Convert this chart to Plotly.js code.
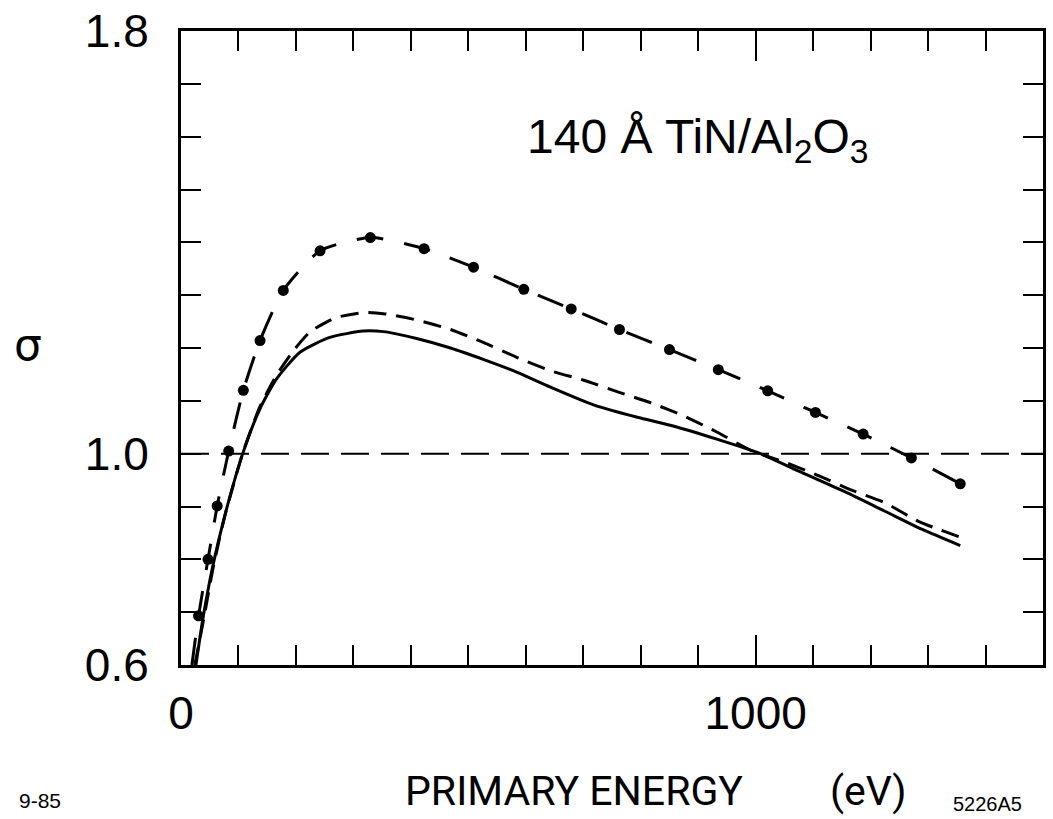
<!DOCTYPE html>
<html>
<head>
<meta charset="utf-8">
<script src="https://cdn.plot.ly/plotly-3.0.1.min.js"></script>
<style>
  html, body { margin: 0; padding: 0; background: #fff; }
  #chart { width: 1053px; height: 819px; }
</style>
</head>
<body>
<div id="chart"></div>
<script>
// Primary energy (eV) and yield sigma
const solidE = [26, 38, 55.5, 76, 108, 137, 166, 207, 259, 317, 352, 410, 469, 527, 585, 643, 719, 794, 858, 934, 1004, 1079, 1155, 1225, 1289, 1356];
const solidSigma = [0.6, 0.687, 0.788, 0.882, 1.002, 1.084, 1.141, 1.192, 1.220, 1.232, 1.231, 1.218, 1.200, 1.178, 1.154, 1.126, 1.092, 1.069, 1.052, 1.027, 1.002, 0.965, 0.928, 0.891, 0.857, 0.826];

const dashedE = [24, 40, 57, 77, 108, 137, 166, 198, 224, 253, 271, 317, 352, 410, 469, 527, 585, 643, 701, 760, 818, 876, 934, 992, 1050, 1108, 1167, 1225, 1283, 1356];
const dashedSigma = [0.6, 0.69, 0.79, 0.885, 1.003, 1.088, 1.148, 1.198, 1.230, 1.249, 1.258, 1.267, 1.265, 1.253, 1.235, 1.210, 1.182, 1.157, 1.139, 1.117, 1.096, 1.071, 1.040, 1.006, 0.984, 0.959, 0.931, 0.907, 0.872, 0.842];

const dotE = [30.5, 47, 63, 83, 108.5, 137.5, 178, 242, 329.5, 423, 509, 596.5, 679, 763, 850, 935, 1021, 1104, 1187, 1271, 1356];
const dotSigma = [0.693, 0.800, 0.901, 1.005, 1.120, 1.214, 1.309, 1.384, 1.409, 1.388, 1.353, 1.311, 1.274, 1.235, 1.197, 1.159, 1.119, 1.078, 1.037, 0.992, 0.943];
const dotLineStartE = [19];
const dotLineStartSigma = [0.6];

const unityE = [0, 1500];
const unitySigma = [1.0, 1.0];

const xTickVals = [0, 1000];
const xTickText = ['0', '1000'];
const yTickVals = [0.6, 1.0, 1.8];
const yTickText = ['0.6', '1.0', '1.8'];

const tickFont = { family: 'Liberation Sans, Arial, sans-serif', size: 46, color: '#000' };
const titleFont = { family: 'Roboto, Liberation Sans, Arial, sans-serif', size: 41, color: '#000' };

const traces = [
  { x: unityE, y: unitySigma, mode: 'lines', line: { color: '#000', width: 2, dash: '28px,12px' }, hoverinfo: 'skip', showlegend: false },
  { x: solidE, y: solidSigma, mode: 'lines', line: { color: '#000', width: 3, shape: 'spline', smoothing: 0.6 }, showlegend: false },
  { x: dashedE, y: dashedSigma, mode: 'lines', line: { color: '#000', width: 3, dash: '18px,10px', shape: 'spline', smoothing: 0.6 }, showlegend: false },
  { x: dotLineStartE.concat(dotE), y: dotLineStartSigma.concat(dotSigma), mode: 'lines', line: { color: '#000', width: 3, dash: '27px,21px', shape: 'spline', smoothing: 0.6 }, showlegend: false },
  { x: dotE, y: dotSigma, mode: 'markers', marker: { color: '#000', size: 11 }, showlegend: false }
];

const layout = {
  width: 1053, height: 819,
  margin: { l: 181, r: 10, t: 31, b: 154 },
  paper_bgcolor: '#fff', plot_bgcolor: '#fff',
  showlegend: false,
  xaxis: {
    range: [0, 1500], showgrid: false, zeroline: false,
    showline: true, linecolor: '#000', linewidth: 3, mirror: 'ticks',
    ticks: 'inside', ticklen: 30, tickwidth: 2, tickcolor: '#000',
    tickvals: xTickVals, ticktext: xTickText, tickfont: tickFont,
    ticklabelstandoff: 6,
    minor: { dtick: 100, ticks: 'inside', ticklen: 20, tickwidth: 2, tickcolor: '#000' }
  },
  yaxis: {
    range: [0.6, 1.8], showgrid: false, zeroline: false,
    showline: true, linecolor: '#000', linewidth: 3, mirror: 'ticks',
    ticks: 'inside', ticklen: 20, tickwidth: 2, tickcolor: '#000',
    tickvals: yTickVals, ticktext: yTickText, tickfont: tickFont,
    ticklabelstandoff: 20,
    minor: { dtick: 0.1, ticks: 'inside', ticklen: 20, tickwidth: 2, tickcolor: '#000' }
  },
  annotations: [
    { text: '140 Å TiN/Al<sub>2</sub>O<sub>3</sub>', xref: 'paper', yref: 'paper', x: 0.399, y: 0.828, xanchor: 'left', yanchor: 'middle', showarrow: false, font: { family: 'Liberation Sans, Arial, sans-serif', size: 48, color: '#000' } },
    { text: 'σ', xref: 'paper', yref: 'paper', x: -0.1775, y: 0.505, xanchor: 'center', yanchor: 'middle', showarrow: false, font: { family: 'DejaVu Sans, sans-serif', size: 44, color: '#000' } },
    { text: 'PRIMARY ENERGY', xref: 'paper', yref: 'paper', x: 0.2575, y: -0.199, xanchor: 'left', yanchor: 'middle', showarrow: false, font: titleFont },
    { text: '(eV)', xref: 'paper', yref: 'paper', x: 0.7505, y: -0.199, xanchor: 'left', yanchor: 'middle', showarrow: false, font: titleFont },
    { text: '9-85', xref: 'paper', yref: 'paper', x: -0.1636, y: -0.213, xanchor: 'center', yanchor: 'middle', showarrow: false, font: { family: 'Liberation Sans, Arial, sans-serif', size: 21, color: '#000' } },
    { text: '5226A5', xref: 'paper', yref: 'paper', x: 0.936, y: -0.219, xanchor: 'center', yanchor: 'middle', showarrow: false, font: { family: 'Liberation Sans, Arial, sans-serif', size: 20, color: '#000' } }
  ]
};

Plotly.newPlot('chart', traces, layout, { staticPlot: true, displayModeBar: false });
</script>
</body>
</html>
